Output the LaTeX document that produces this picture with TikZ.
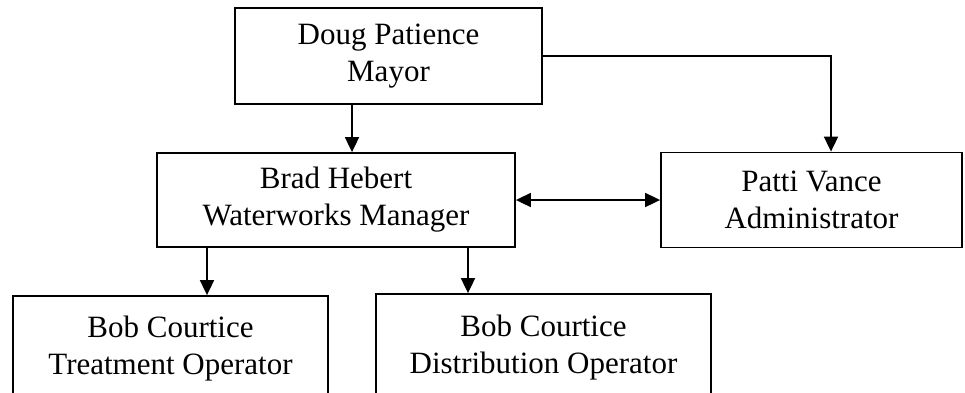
\documentclass[tikz,border=0pt]{standalone}
\usepackage{fontspec}
\setmainfont{Liberation Serif}
\usetikzlibrary{arrows.meta}
\tikzset{
  orgbox/.style={draw, line width=1.8pt, inner sep=0pt, align=center,
    font=\fontsize{31}{37}\selectfont},
  arr/.style={line width=1.8pt, -{Triangle[length=15pt,width=14pt]}},
  darr/.style={line width=1.8pt, {Triangle[length=15pt,width=14pt]}-{Triangle[length=15pt,width=14pt]}}
}
\begin{document}
\begin{tikzpicture}[x=1pt,y=-1pt]
\useasboundingbox (0,0) rectangle (965,392);
\clip (0,0) rectangle (965,392);
\node[orgbox, minimum width=307pt, minimum height=96pt] (mayor) at (388.5,56) {Doug Patience\\Mayor};
\node[orgbox, minimum width=358pt, minimum height=94pt] (brad) at (336,200) {Brad Hebert\\Waterworks Manager};
\node[orgbox, minimum width=301pt, minimum height=95pt] (patti) at (811.5,200) {Patti Vance\\Administrator};
\node[orgbox, minimum width=315pt, minimum height=106pt] (treat) at (170.5,349) {Bob Courtice\\Treatment Operator};
\node[orgbox, minimum width=335pt, minimum height=108pt] (dist) at (543.5,348) {Bob Courtice\\Distribution Operator};
\coordinate (c1) at (352,0);
\coordinate (c2) at (831,56);
\coordinate (c3) at (207,0);
\coordinate (c4) at (468,0);
\draw[arr] (mayor.south -| c1) -- (brad.north -| c1);
\draw[arr] (mayor.east |- c2) -- (c2) -- (patti.north -| c2);
\draw[darr] (brad.east) -- (patti.west);
\draw[arr] (brad.south -| c3) -- (treat.north -| c3);
\draw[arr] (brad.south -| c4) -- (dist.north -| c4);
\end{tikzpicture}
\end{document}
